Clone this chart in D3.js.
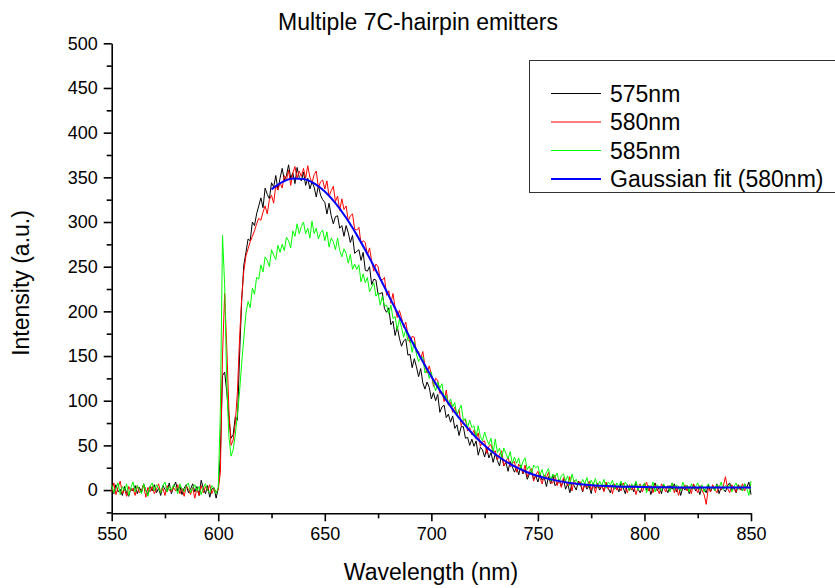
<!DOCTYPE html>
<html>
<head>
<meta charset="utf-8">
<script src="https://cdn.jsdelivr.net/npm/d3@7"></script>
<style>
  body { margin: 0; background: #fff; }
  text { font-family: "Liberation Sans", Arial, sans-serif; fill: #000; }
</style>
</head>
<body>
<script>
// wavelength grid, 1 nm steps 550..850
var wlStart = 550
var wlStep = 1

var em575 = [
  3, -4, 6, -2, 1, -6, 4, -3, -7, 2,
  -1, 5, -4, 3, -2, 7, 0, -5, 4, -1,
  6, -3, 2, -6, 5, 1, -2, 8, -4, 3,
  9, -1, 4, -5, 2, 6, -3, 1, 7, -2,
  4, -6, 11, 2, -4, 5, -8, 1, 3, -9,
  2, 40, 128, 132, 110, 80, 58, 62, 82, 78,
  150, 212, 252, 266, 281, 279, 300, 296, 309, 318,
  327, 316, 338, 331, 326, 344, 339, 352, 336, 349,
  360, 347, 352, 364, 349, 355, 343, 361, 350, 346,
  356, 341, 349, 337, 345, 339, 328, 341, 330, 325,
  322, 309, 321, 307, 298, 306, 307, 293, 296, 284,
  296, 288, 277, 285, 265, 267, 269, 257, 266, 246,
  245, 250, 230, 236, 235, 219, 220, 221, 203, 199,
  204, 185, 189, 173, 183, 170, 161, 167, 169, 151,
  152, 137, 147, 138, 127, 136, 120, 113, 121, 115,
  102, 109, 100, 107, 87, 93, 95, 81, 85, 76,
  83, 69, 73, 61, 71, 71, 58, 59, 50, 57,
  49, 55, 39, 48, 45, 37, 47, 36, 42, 31,
  41, 33, 27, 40, 27, 31, 21, 32, 26, 20,
  26, 17, 28, 18, 23, 12, 18, 21, 12, 16,
  9, 18, 11, 14, 4, 15, 7, 17, 5, 7,
  11, 4, 12, 1, 7, -3, 8, 5, 0, 10,
  6, -2, 7, 1, 5, -4, 8, 2, 6, 0,
  5, -1, 7, 2, -3, 6, 1, 4, -2, 8,
  3, -4, 6, 0, 5, -2, 9, 1, -3, 4,
  7, 0, 5, -5, 3, 8, -1, 4, -4, 6,
  2, -3, 5, 1, 7, -2, 4, -6, 3, 0,
  5, -4, 2, 6, -1, 3, -5, 4, 1, -3,
  6, -2, 4, 0, 7, -4, 3, 1, -2, 5,
  8, 0, 4, -3, 6, 2, -1, 7, 3, 9,
  -5
]

var em580 = [
  -2, 8, -5, 3, 10, -4, 1, -7, 4, -1,
  2, -6, 5, -3, 0, 6, -8, 3, -2, 4,
  -4, 1, 7, -3, 2, -6, 5, 0, -2, 3,
  -1, 6, -4, 2, -7, 4, 1, -5, 3, -9,
  2, -6, 5, -3, 4, -1, 6, -4, 2, -2,
  0, 20, 150, 220, 160, 90, 50, 56, 75, 110,
  170, 215, 245, 262, 270, 278, 284, 290, 298, 304,
  302, 311, 318, 309, 325, 330, 321, 341, 336, 344,
  338, 352, 347, 358, 341, 355, 362, 349, 357, 351,
  360, 349, 363, 350, 344, 353, 357, 338, 345, 347,
  337, 346, 329, 335, 340, 323, 329, 313, 326, 314,
  318, 301, 307, 309, 292, 291, 294, 276, 279, 277,
  263, 271, 256, 245, 253, 250, 236, 235, 238, 218,
  223, 209, 220, 204, 193, 201, 193, 182, 188, 174,
  165, 172, 171, 154, 155, 147, 155, 139, 131, 139,
  130, 116, 125, 123, 108, 110, 99, 112, 95, 98,
  87, 93, 84, 90, 72, 78, 79, 66, 70, 62,
  67, 57, 64, 49, 54, 55, 41, 49, 51, 42,
  44, 34, 40, 44, 27, 32, 37, 26, 30, 32,
  20, 29, 25, 19, 28, 15, 21, 24, 10, 17,
  21, 13, 7, 17, 14, 20, 8, 8, 17, 5,
  12, 3, 14, 9, 5, 15, -1, 11, 6, 9,
  9, -1, 7, 3, 10, 0, 6, -3, 8, 2,
  5, -2, 9, 1, 6, -4, 7, 0, 4, -1,
  8, 2, -3, 6, 0, 5, -5, 3, 7, -2,
  4, 9, -1, 5, -3, 6, 1, -4, 7, 2,
  -2, 5, 0, 8, -3, 4, -6, 3, 1, 6,
  -1, 4, -4, 7, 2, -3, 5, 0, -5, -16,
  3, -2, 6, 1, -3, 5, 0, 4, 15, 2,
  -3, 6, 1, -2, 5, 0, 7, -1, 4, 2,
  6
]

var em585 = [
  6, -3, 2, 8, -5, 4, -1, 7, -6, 3,
  9, -2, 5, 1, -4, 7, 0, -7, 4, 8,
  -1, 6, 2, -3, 5, 9, -2, 4, 0, 6,
  3, -4, 7, 1, -2, 5, 8, -3, 2, 6,
  -1, 4, -5, 3, 7, 0, -3, 5, 2, -4,
  3, 90, 285, 230, 120, 60, 38, 45, 62, 85,
  110, 142, 170, 198, 211, 204, 226, 219, 238, 236,
  252, 244, 261, 257, 250, 269, 263, 258, 274, 266,
  275, 268, 283, 279, 271, 290, 284, 298, 287, 295,
  300, 287, 293, 282, 301, 287, 293, 281, 288, 291,
  279, 289, 272, 282, 278, 269, 282, 268, 261, 270,
  265, 254, 264, 247, 253, 247, 252, 233, 242, 232,
  238, 222, 227, 232, 217, 221, 207, 217, 206, 207,
  197, 207, 192, 194, 179, 191, 182, 171, 180, 167,
  169, 154, 166, 152, 144, 148, 149, 131, 135, 125,
  132, 119, 111, 121, 114, 119, 102, 106, 95, 102,
  93, 98, 83, 90, 95, 78, 80, 70, 78, 70,
  72, 60, 72, 60, 55, 65, 57, 51, 58, 42,
  57, 42, 47, 36, 47, 41, 35, 43, 30, 37,
  30, 36, 24, 32, 36, 23, 27, 18, 28, 25,
  27, 17, 23, 13, 20, 24, 10, 18, 14, 19,
  9, 16, 18, 10, 16, 5, 18, 9, 12, 6,
  5, 12, 7, 14, 4, 11, 6, 13, 3, 10,
  5, 12, 2, 9, 6, 11, 1, 8, 4, 10,
  2, 9, 5, -1, 7, 3, 10, 0, 6, 2,
  8, -3, 5, 1, 9, -2, 6, 3, -1, 7,
  2, 5, -2, 8, 0, 6, 3, -1, 9, 2,
  5, -2, 7, 1, 4, 8, 0, 6, -2, 3,
  7, 1, 4, -1, 6, 2, 9, 0, 5, 3,
  6, -2, 4, 8, 1, 5, -1, 7, 2, -6,
  10
]

// gaussian fit of the 580nm trace, read every 5 nm
var fitWl = [625, 630, 635, 640, 645, 650, 655, 660, 665, 670, 675, 680, 685, 690, 695,
  700, 705, 710, 715, 720, 725, 730, 735, 740, 745, 750, 755, 760, 765, 770, 775, 780,
  785, 790, 795, 800, 805, 810, 815, 820, 825, 830, 835, 840, 845, 850]
var fit580 = [336.5, 344.6, 348.6, 348.2, 343.3, 334.2, 321.2, 304.8, 285.6, 264.2, 241.3,
  217.6, 193.9, 170.5, 148.1, 127.1, 107.8, 90.4, 74.9, 61.4, 49.8, 40.1, 32.0, 25.3, 20.0,
  15.8, 12.5, 10.0, 8.0, 6.6, 5.5, 4.8, 4.2, 3.8, 3.6, 3.4, 3.2, 3.1, 3.0, 3.0, 3.0, 3.0,
  3.0, 3.0, 3.0, 3.0]

var xTicks = [550, 600, 650, 700, 750, 800, 850]
var xMinor = [575, 625, 675, 725, 775, 825]
var yTicks = [0, 50, 100, 150, 200, 250, 300, 350, 400, 450, 500]
var yMinor = [-25, 25, 75, 125, 175, 225, 275, 325, 375, 425, 475]

var seriesNames = ["575nm", "580nm", "585nm", "Gaussian fit (580nm)"]
var seriesColors = ["#000000", "#ff0000", "#00ff00", "#0000ff"]

class SpectrumChart {
  constructor(width, height, margins) {
    this.width = width
    this.height = height
    this.margins = margins
    this.svg = d3.select("body").append("svg")
      .attr("width", width)
      .attr("height", height)

    this.createScale()
    this.createAxes()
    this.draw()
    this.createLegend()
  }

  createScale() {
    this.scaleX = d3.scaleLinear().domain([550, 850])
      .range([this.margins.left, this.width - this.margins.right])
    this.scaleY = d3.scaleLinear().domain([-26, 500])
      .range([this.height - this.margins.bottom, this.margins.top])
  }

  createAxes() {
    var bottomY = this.scaleY(-26)

    var axisX = this.svg.append("g").attr("transform", "translate(0," + bottomY + ")")
    axisX.call(d3.axisBottom(this.scaleX).tickValues(xTicks).tickSize(8).tickPadding(6)
      .tickFormat(d3.format("d")).tickSizeOuter(0))
    var minorX = this.svg.append("g").attr("transform", "translate(0," + bottomY + ")")
    minorX.call(d3.axisBottom(this.scaleX).tickValues(xMinor).tickSize(5).tickFormat("").tickSizeOuter(0))
    minorX.select(".domain").remove()

    var axisY = this.svg.append("g").attr("transform", "translate(" + this.margins.left + ",0)")
    axisY.call(d3.axisLeft(this.scaleY).tickValues(yTicks).tickSize(8).tickPadding(6)
      .tickFormat(d3.format("d")).tickSizeOuter(0))
    var minorY = this.svg.append("g").attr("transform", "translate(" + this.margins.left + ",0)")
    minorY.call(d3.axisLeft(this.scaleY).tickValues(yMinor).tickSize(5).tickFormat("").tickSizeOuter(0))
    minorY.select(".domain").remove()

    this.svg.selectAll(".domain, .tick line").attr("stroke", "#000").attr("stroke-width", 1.6)
    this.svg.selectAll(".tick text").style("font-size", "18px")
      .style("font-family", "'Liberation Sans', Arial, sans-serif")

    this.svg.append("text").attr("x", 418).attr("y", 30).attr("text-anchor", "middle")
      .style("font-size", "23px").text("Multiple 7C-hairpin emitters")
    this.svg.append("text").attr("x", 431).attr("y", 580).attr("text-anchor", "middle")
      .style("font-size", "23px").text("Wavelength (nm)")
    this.svg.append("text")
      .attr("transform", "translate(29,283) rotate(-90)")
      .attr("text-anchor", "middle")
      .style("font-size", "23px").text("Intensity (a.u.)")
  }

  draw() {
    var that = this
    var line = d3.line()
      .x(function(d, i) { return that.scaleX(wlStart + i * wlStep) })
      .y(function(d) { return that.scaleY(d) })

    var traces = [em575, em580, em585]
    traces.forEach(function(tr, k) {
      that.svg.append("path")
        .datum(tr)
        .attr("fill", "none")
        .attr("stroke", seriesColors[k])
        .attr("stroke-width", 1)
        .attr("d", line)
    })

    var fitLine = d3.line()
      .x(function(d, i) { return that.scaleX(fitWl[i]) })
      .y(function(d) { return that.scaleY(d) })
      .curve(d3.curveMonotoneX)
    this.svg.append("path")
      .datum(fit580)
      .attr("fill", "none")
      .attr("stroke", seriesColors[3])
      .attr("stroke-width", 2)
      .attr("d", fitLine)
  }

  createLegend() {
    var g = this.svg.append("g")
    g.append("rect").attr("x", 529.5).attr("y", 60.5).attr("width", 306).attr("height", 132)
      .attr("fill", "#fff").attr("stroke", "#333").attr("stroke-width", 1)
    seriesNames.forEach(function(name, i) {
      var y = 93.5 + i * 28.5
      g.append("line").attr("x1", 551).attr("x2", 601).attr("y1", y).attr("y2", y)
        .attr("stroke", seriesColors[i]).attr("stroke-width", i == 3 ? 2 : 1)
      g.append("text").attr("x", 610).attr("y", y + 8.4)
        .style("font-size", "23px").text(name)
    })
  }
}

new SpectrumChart(835, 588, {top: 43.3, right: 84, bottom: 74.7, left: 111.7})
</script>
</body>
</html>
